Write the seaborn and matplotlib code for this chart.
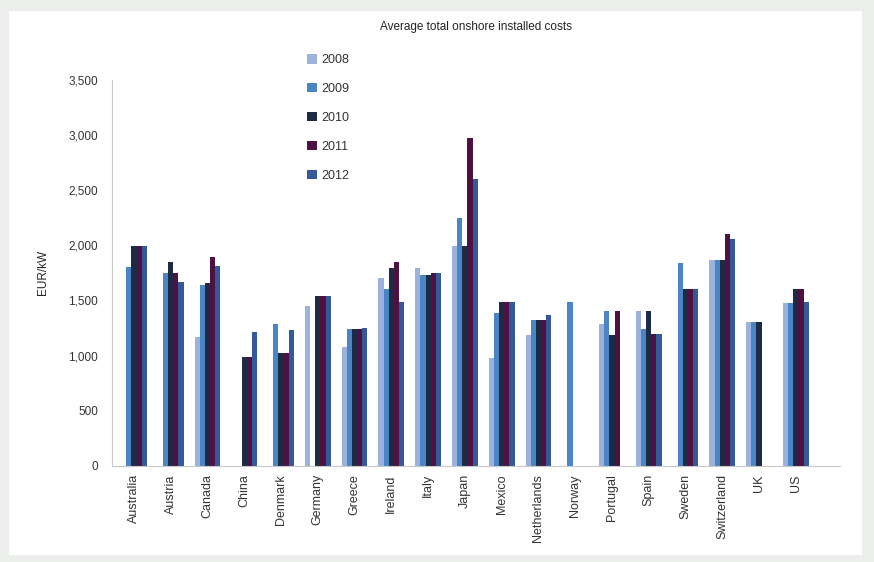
import numpy as np
import pandas as pd
import seaborn as sns
import matplotlib.pyplot as plt
from matplotlib.patches import Rectangle
from matplotlib.ticker import FuncFormatter, FixedLocator

countries = ["Australia", "Austria", "Canada", "China", "Denmark", "Germany",
             "Greece", "Ireland", "Italy", "Japan", "Mexico", "Netherlands",
             "Norway", "Portugal", "Spain", "Sweden", "Switzerland", "UK", "US"]
years = ["2008", "2009", "2010", "2011", "2012"]

nan = np.nan
cost_2008 = [nan, nan, 1170, nan, nan, 1450, 1080, 1700, 1790, 1990, 980, 1190, nan, 1290, 1400, nan, 1870, 1300, 1480]
cost_2009 = [1800, 1750, 1640, nan, 1290, nan, 1240, 1600, 1730, 2250, 1390, 1320, 1490, 1400, 1240, 1840, 1870, 1300, 1480]
cost_2010 = [1990, 1850, 1660, 990, 1020, 1540, 1240, 1790, 1730, 1990, 1490, 1320, nan, 1190, 1400, 1600, 1870, 1300, 1600]
cost_2011 = [1990, 1750, 1890, 990, 1020, 1540, 1240, 1850, 1750, 2970, 1490, 1320, nan, 1400, 1200, 1600, 2100, nan, 1600]
cost_2012 = [1990, 1670, 1810, 1210, 1230, 1540, 1250, 1490, 1750, 2600, 1490, 1370, nan, nan, 1200, 1600, 2060, nan, 1490]

colors = ["#9db2da", "#4a86c6", "#1e2b45", "#4e1142", "#34599a"]

d = pd.DataFrame({"country": countries, "2008": cost_2008, "2009": cost_2009,
                  "2010": cost_2010, "2011": cost_2011, "2012": cost_2012})
d = d.melt(id_vars="country", var_name="year", value_name="cost")

sns.set_style("white")
plt.rcParams["font.family"] = ["Liberation Sans", "DejaVu Sans"]

fig = plt.figure(figsize=(8.74, 5.62), dpi=100)
fig.patch.set_facecolor("#eceeeb")
fig.add_artist(Rectangle((0.01, 0.012), 0.976, 0.968, transform=fig.transFigure,
                         facecolor="white", edgecolor="none", zorder=-1))
ax = fig.add_axes([0.128, 0.171, 0.833, 0.687])

sns.barplot(data=d, x="country", y="cost", hue="year", order=countries,
            hue_order=years, palette=colors, errorbar=None, width=0.7,
            saturation=1, linewidth=0, edgecolor="none", ax=ax)

ax.set_ylim(0, 3500)
ax.set_xlim(-0.6, len(countries) - 0.4 + 0.6)
ax.set_yticks(np.arange(0, 3501, 500))
ax.yaxis.set_major_formatter(FuncFormatter(lambda v, p: f"{int(v):,}"))
ax.tick_params(axis="y", labelsize=8.5, colors="#333333", length=0, pad=10)
ax.tick_params(axis="x", labelsize=9, colors="#333333", labelrotation=90, length=0, pad=6)
ax.xaxis.set_minor_locator(FixedLocator(np.arange(-0.5, len(countries) + 0.5, 1)))
ax.tick_params(axis="x", which="minor", length=4, color="#bbbbbb", direction="out")
ax.set_xlabel("")
ax.set_ylabel("EUR/kW", fontsize=8.5, color="#222222", labelpad=14)
ax.set_title("Average total onshore installed costs", fontsize=8.5, color="#222222", pad=36)

for s in ["top", "right"]:
    ax.spines[s].set_visible(False)
for s in ["left", "bottom"]:
    ax.spines[s].set_color("#c8c8c8")
    ax.spines[s].set_linewidth(0.8)

ax.legend(loc="upper left", bbox_to_anchor=(0.253, 1.095), frameon=False,
          fontsize=9, labelspacing=1.35, handlelength=0.75, handleheight=0.75,
          handletextpad=0.4, labelcolor="#333333")

fig.savefig("out.png", dpi=100, facecolor=fig.get_facecolor())
